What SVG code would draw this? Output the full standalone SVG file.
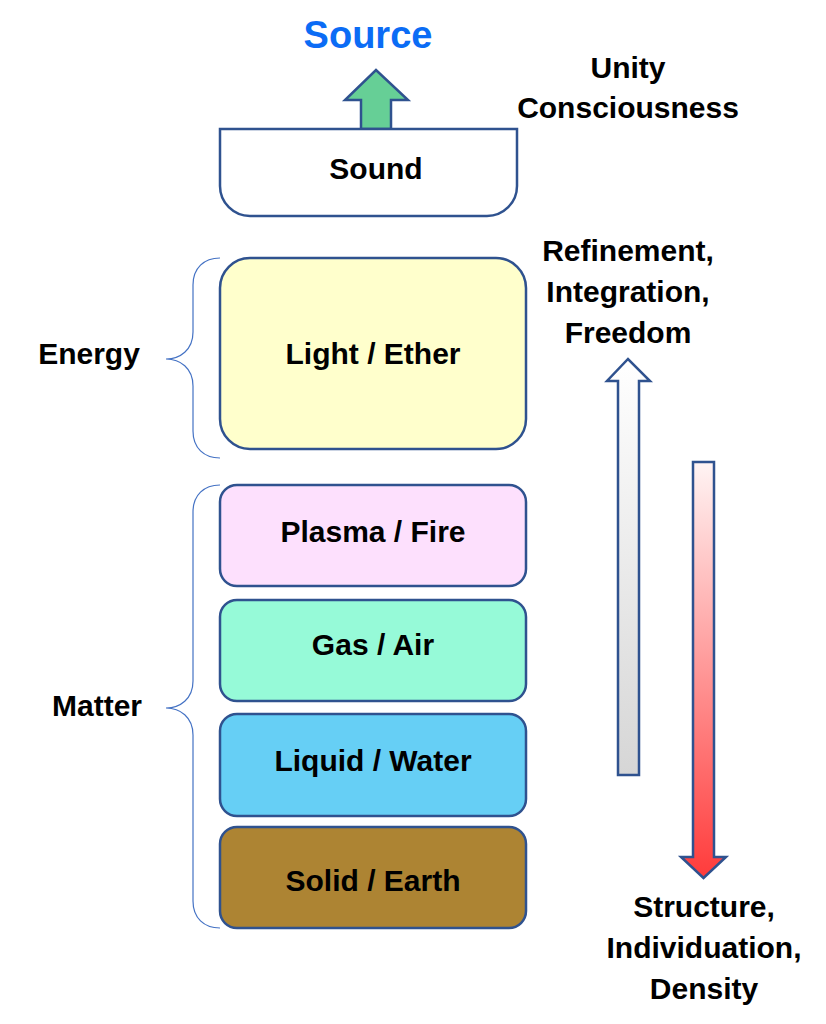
<svg xmlns="http://www.w3.org/2000/svg" width="826" height="1024" viewBox="0 0 826 1024">
<style>
.lbl{font-family:"Liberation Sans",Arial,sans-serif;font-weight:bold;font-size:30px;fill:#000;text-anchor:middle}
.box{stroke:#2F528F;stroke-width:2.5}
.brace{fill:none;stroke:#4472C4;stroke-width:1.2}
.arr{stroke:#2F528F;stroke-width:2.5;stroke-linejoin:miter}
</style>
<defs>
<linearGradient id="gUp" x1="0" y1="0" x2="0" y2="1">
<stop offset="0" stop-color="#FFFFFF"/>
<stop offset="1" stop-color="#D6D6D6"/>
</linearGradient>
<linearGradient id="gDown" x1="0" y1="0" x2="0" y2="1">
<stop offset="0" stop-color="#FFF4F4"/>
<stop offset="1" stop-color="#FF3B3B"/>
</linearGradient>
</defs>
<rect width="826" height="1024" fill="#FFFFFF"/>

<g id="source">
<text x="368" y="48" font-family="'Liberation Sans',Arial,sans-serif" font-weight="bold" font-size="38" fill="#0B6CF5" text-anchor="middle">Source</text>
</g>
<g id="unity">
<text class="lbl" x="628" y="78">Unity</text>
<text class="lbl" x="628" y="118">Consciousness</text>
</g>

<g id="connectors">
<path class="arr" d="M361,129 V100 H345 L376,70 L408,100 H391 V129 Z" fill="#66CF96"/>
<path class="arr" d="M618,775 V381 H607 L628,359 L650,381 H639 V775 Z" fill="url(#gUp)"/>
<path class="arr" d="M693,462 H714 V857 H726 L703.5,878 L681,857 H693 Z" fill="url(#gDown)"/>
<path class="brace" d="M220,258 C204,258 193,268 193,285 V332 C193,350 180,359 166,359 C180,359 193,368 193,386 V431 C193,448 204,458 220,458"/>
<path class="brace" d="M220,485 C204,485 193,495 193,512 V681 C193,699 180,708 166,708 C180,708 193,717 193,735 V901 C193,918 204,928 220,928"/>
</g>

<g id="sound">
<path class="box" d="M220,129 H517 V186 A30,30 0 0 1 487,216 H250 A30,30 0 0 1 220,186 Z" fill="#FFFFFF"/>
<text class="lbl" x="376" y="179">Sound</text>
</g>
<g id="light">
<rect class="box" x="220" y="258" width="306" height="191" rx="30" fill="#FFFFCC"/>
<text class="lbl" x="373" y="364">Light / Ether</text>
</g>
<g id="plasma">
<rect class="box" x="220" y="485" width="306" height="101" rx="17" fill="#FDE0FD"/>
<text class="lbl" x="373" y="542">Plasma / Fire</text>
</g>
<g id="gas">
<rect class="box" x="220" y="600" width="306" height="101" rx="17" fill="#96FAD8"/>
<text class="lbl" x="373" y="655">Gas / Air</text>
</g>
<g id="liquid">
<rect class="box" x="220" y="714" width="306" height="102" rx="17" fill="#66CFF5"/>
<text class="lbl" x="373" y="771">Liquid / Water</text>
</g>
<g id="solid">
<rect class="box" x="220" y="827" width="306" height="101" rx="17" fill="#AD8433"/>
<text class="lbl" x="373" y="891">Solid / Earth</text>
</g>

<g id="energy">
<text class="lbl" x="89" y="364">Energy</text>
</g>
<g id="matter">
<text class="lbl" x="97" y="716">Matter</text>
</g>
<g id="refinement">
<text class="lbl" x="628" y="261">Refinement,</text>
<text class="lbl" x="628" y="302">Integration,</text>
<text class="lbl" x="628" y="343">Freedom</text>
</g>
<g id="structure">
<text class="lbl" x="704" y="917">Structure,</text>
<text class="lbl" x="704" y="958">Individuation,</text>
<text class="lbl" x="704" y="999">Density</text>
</g>
</svg>
